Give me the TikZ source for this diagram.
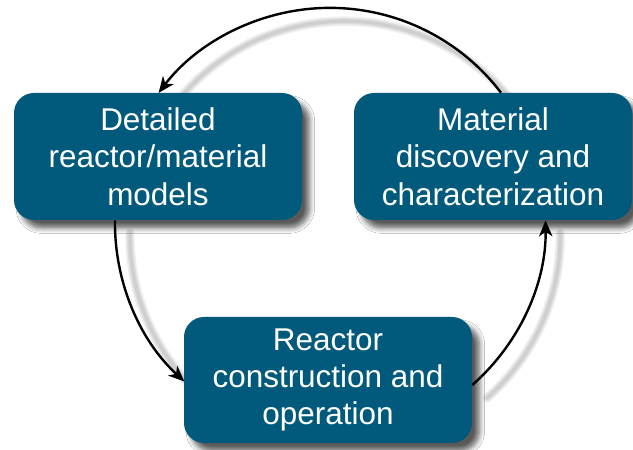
\documentclass[tikz,border=0pt]{standalone}
\usepackage{fontspec}
\setmainfont{Liberation Sans}
\usetikzlibrary{arrows.meta,shadows.blur}
\definecolor{boxteal}{HTML}{015A7C}
\tikzset{
  stagebox/.style={draw=none, fill=boxteal, rounded corners=15pt, text=white,
    align=center, inner sep=0pt, font=\fontsize{23.6pt}{28pt}\selectfont,
    blur shadow={shadow xshift=5.5pt, shadow yshift=-6pt, shadow blur steps=6, shadow blur radius=4pt, shadow opacity=65}},
  cyclearrow/.style={line width=1.8pt, black, -{Stealth[length=12pt,width=10pt,inset=3.5pt]}},
  arcshadow/.style={line width=#1, gray, opacity=0.14, line cap=round}
}
\begin{document}
\begin{tikzpicture}[x=0.75pt,y=0.75pt]
\useasboundingbox[fill=white] (0,0) rectangle (633,450);
% shadows of the arcs
\foreach \w in {7pt,4.5pt,2.5pt}{
  \draw[arcshadow=\w] (516,344) arc[start angle=37.25, end angle=142.8, radius=215];
  \draw[arcshadow=\w] (130,217) arc[start angle=179.2, end angle=227.4, radius=215];
  \draw[arcshadow=\w] (487,52) arc[start angle=-48.76, end angle=0.8, radius=215];
}
\node[stagebox, minimum width=216pt, minimum height=95.25pt] (L) at (158,293.5)
  {Detailed\\reactor/material\\models};
\node[stagebox, minimum width=208.5pt, minimum height=95.25pt] (R) at (493,293.5)
  {Material\\discovery and\\characterization};
\node[stagebox, minimum width=216pt, minimum height=94.5pt] (B) at (328,70)
  {Reactor\\construction and\\operation};
\draw[cyclearrow] ([xshift=6pt]R.north) arc[start angle=37.25, end angle=142.8, radius=215];
\draw[cyclearrow] ([xshift=-32.25pt]L.south) arc[start angle=179.2, end angle=227.4, radius=215];
\draw[cyclearrow] ([yshift=-3.75pt]B.east) arc[start angle=-48.76, end angle=0.8, radius=215];
\end{tikzpicture}
\end{document}
